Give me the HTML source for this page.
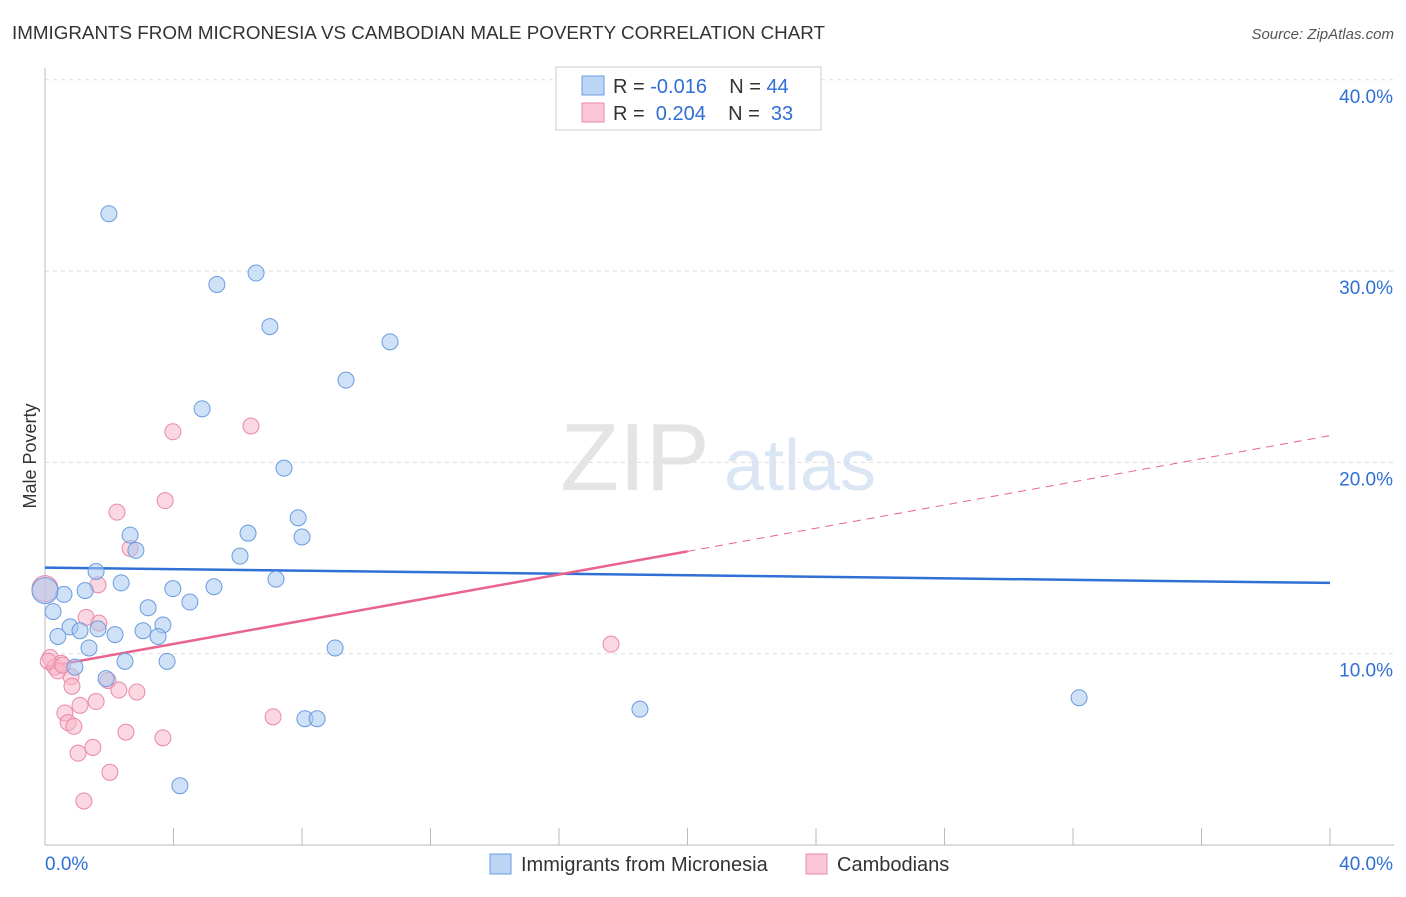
<!DOCTYPE html>
<html><head><meta charset="utf-8"><style>
body{margin:0;background:#fff;font-family:"Liberation Sans",sans-serif;}
svg text{font-family:"Liberation Sans",sans-serif;}
</style></head><body>
<svg id="chart" width="1406" height="892">
<text x="12" y="39" font-size="18.8" fill="#333" textLength="813">IMMIGRANTS FROM MICRONESIA VS CAMBODIAN MALE POVERTY CORRELATION CHART</text>
<text x="1394" y="39" font-size="15" fill="#555" text-anchor="end" font-style="italic">Source: ZipAtlas.com</text>
<text x="36" y="456" font-size="18" fill="#333" transform="rotate(-90 36 456)" text-anchor="middle">Male Poverty</text>
<g><text x="635" y="490" font-size="96" fill="#e4e4e4" text-anchor="middle" font-family="Liberation Serif,serif">ZIP</text><text x="800" y="490" font-size="72" fill="#dbe6f4" text-anchor="middle">atlas</text></g>
<g id="grid"></g><g id="axes"></g><g id="lines"></g><g id="pts"></g>
<g>
<rect x="556" y="67" width="265" height="63" fill="#fff" stroke="#ccc"/>
<rect x="582" y="76" width="22" height="19" fill="#bcd5f5" stroke="#6a9be0"/>
<rect x="582" y="103" width="22" height="19" fill="#fbc7d6" stroke="#e889a8"/>
<text x="613" y="93" font-size="20" fill="#333">R = <tspan fill="#2f6fd6">-0.016</tspan>&#160;&#160;&#160;&#160;N = <tspan fill="#2f6fd6">44</tspan></text>
<text x="613" y="120" font-size="20" fill="#333">R = &#160;<tspan fill="#2f6fd6">0.204</tspan>&#160;&#160;&#160;&#160;N = &#160;<tspan fill="#2f6fd6">33</tspan></text>
</g>
<g>
<rect x="490" y="854" width="21" height="20" fill="#bcd5f5" stroke="#6a9be0"/>
<text x="521" y="871" font-size="20" fill="#333">Immigrants from Micronesia</text>
<rect x="806" y="854" width="21" height="20" fill="#fbc7d6" stroke="#e889a8"/>
<text x="837" y="871" font-size="20" fill="#333">Cambodians</text>
</g>
</svg>
<script>
const yTicks=[10,20,30,40];
const yTickLabels=["10.0%","20.0%","30.0%","40.0%"];
const xTicks=[0,4,8,12,16,20,24,28,32,36,40];
const blueX=[1.99,5.35,6.57,7.0,10.74,9.37,4.89,7.44,7.88,8.0,2.65,6.32,2.83,6.07,1.59,2.37,7.19,3.98,5.26,1.25,0.59,0,0.25,3.21,4.51,0.78,1.09,1.65,2.18,3.05,3.67,3.52,0.40,1.37,9.03,2.49,3.80,0.93,1.90,8.09,8.47,18.52,32.19,4.20];
const blueY=[33.0,29.3,29.9,27.1,26.3,24.3,22.8,19.7,17.1,16.1,16.2,16.3,15.4,15.1,14.3,13.7,13.9,13.4,13.5,13.3,13.1,13.3,12.2,12.4,12.7,11.4,11.2,11.3,11.0,11.2,11.5,10.9,10.9,10.3,10.3,9.6,9.6,9.3,8.7,6.6,6.6,7.1,7.7,3.1];
const pinkX=[3.98,6.41,3.74,2.24,2.65,1.65,0,1.28,1.68,0.16,0.31,0.50,0.81,0.84,1.96,2.30,2.86,1.59,1.09,0.62,0.72,0.90,7.10,2.52,3.67,1.49,1.03,2.02,1.21,17.62,0.40,0.10,0.55];
const pinkY=[21.6,21.9,18.0,17.4,15.5,13.6,13.4,11.9,11.6,9.8,9.3,9.5,8.8,8.3,8.6,8.1,8.0,7.5,7.3,6.9,6.4,6.2,6.7,5.9,5.6,5.1,4.8,3.8,2.3,10.5,9.1,9.6,9.4];
const blueTrend=[14.5,13.7];
const pinkTrend=[9.3,21.4];
const pinkSolidEnd=20;
const X=v=>45+v*32.125, Y=v=>845-v*19.13;
const NS="http://www.w3.org/2000/svg";
function mk(t,a,p){const e=document.createElementNS(NS,t);for(const k in a)e.setAttribute(k,a[k]);document.getElementById(p).appendChild(e);return e;}
yTicks.forEach((t,i)=>{
 const l=mk('line',{x1:45,x2:1394,y1:Y(t),y2:Y(t),stroke:'#ddd','stroke-dasharray':'4,4'},'grid');
 
 
 const tx=mk('text',{x:1393,y:Y(t)+23,'font-size':19,fill:'#2f6fd6','text-anchor':'end'},'grid');
 tx.textContent=yTickLabels[i];
 
 
});
let ax=mk('line',{x1:45,x2:1394,y1:845,y2:845,stroke:'#bbb'},'axes');


let ay=mk('line',{x1:45,x2:45,y1:68,y2:845,stroke:'#bbb'},'axes');


xTicks.forEach(t=>{
 const l=mk('line',{x1:X(t),x2:X(t),y1:828,y2:845,stroke:'#bbb'},'axes');
 
 
});
[[0,"0.0%",'start',45],[40,"40.0%",'end',1393]].forEach(a=>{
 const tx=mk('text',{x:a[3],y:870,'font-size':19,fill:'#2f6fd6','text-anchor':a[2]},'axes');
 tx.textContent=a[1];
 
 
});
function pts(xs,ys,fill,stroke,name){xs.forEach((x,i)=>{
 const c=mk('circle',{cx:X(x),cy:Y(ys[i]),r:8,fill:fill,'fill-opacity':0.55,stroke:stroke,'stroke-width':1},'pts');
 if(x===0)c.setAttribute('r',13);
 
 
});}
pts(pinkX,pinkY,'#f7b6c8','#e889a8','cambodian-point');
pts(blueX,blueY,'#a8c8f0','#6a9be0','micronesia-point');
let b=mk('line',{x1:X(0),x2:X(40),y1:Y(blueTrend[0]),y2:Y(blueTrend[1]),stroke:'#2f6fd6','stroke-width':2.5},'lines');


const pAt=x=>pinkTrend[0]+(pinkTrend[1]-pinkTrend[0])*x/40;
let p1=mk('line',{x1:X(0),x2:X(pinkSolidEnd),y1:Y(pinkTrend[0]),y2:Y(pAt(pinkSolidEnd)),stroke:'#e8648e','stroke-width':2.5},'lines');


let p2=mk('line',{x1:X(pinkSolidEnd),x2:X(40),y1:Y(pAt(pinkSolidEnd)),y2:Y(pinkTrend[1]),stroke:'#e8648e','stroke-width':1,'stroke-dasharray':'8,6'},'lines');


</script>
</body></html>
